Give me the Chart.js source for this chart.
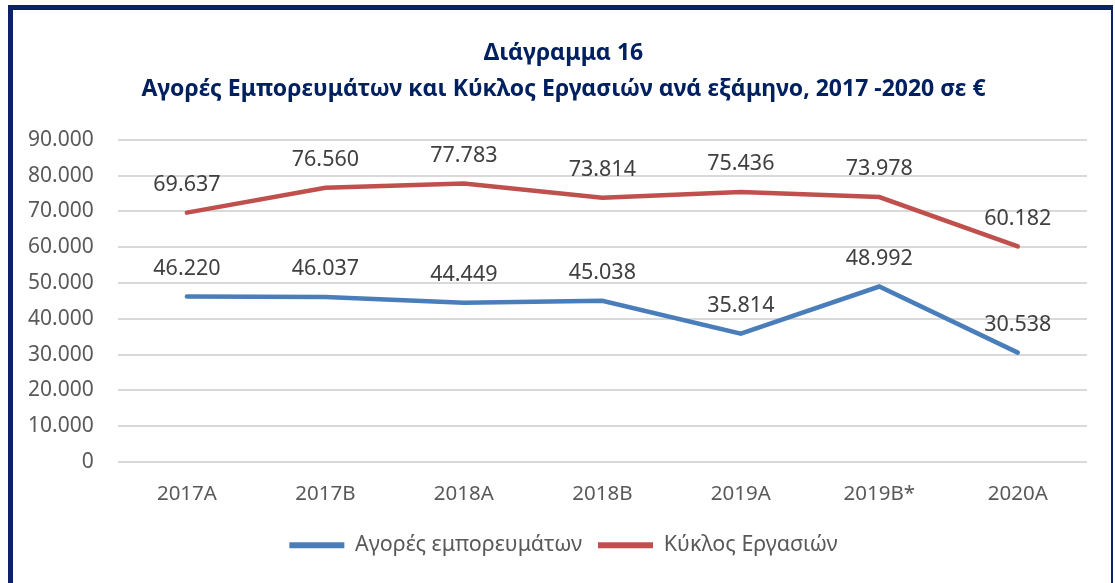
<!DOCTYPE html>
<html>
<head>
<meta charset="utf-8">
<script src="https://cdn.jsdelivr.net/npm/chart.js@4.4.0/dist/chart.umd.min.js"></script>
<style>
  html, body { margin: 0; padding: 0; background: #fff; }
  #wrap { position: relative; width: 1115px; height: 583px; }
  #frame {
    position: absolute; left: 8px; top: 5px; width: 1098px; height: 573px;
    border-top: 5px solid #0b2364; border-left: 5px solid #0b2364;
    border-right: 2px solid #0b2364; border-bottom: 2px solid #0b2364;
    pointer-events: none;
  }
</style>
</head>
<body>
<div id="wrap">
  <canvas id="lineChart" width="1115" height="583"></canvas>
  <div id="frame"></div>
</div>
<script>
const categories = ['2017A', '2017B', '2018A', '2018B', '2019A', '2019B*', '2020A'];
const purchases = [46220, 46037, 44449, 45038, 35814, 48992, 30538];
const turnover = [69637, 76560, 77783, 73814, 75436, 73978, 60182];
const yTicks = [0, 10000, 20000, 30000, 40000, 50000, 60000, 70000, 80000, 90000];

const fmt = (v) => v === 0 ? '0' : v.toLocaleString('de-DE');
const FONT = "'Noto Sans', sans-serif";

// data labels above each point
const pointLabels = {
    id: 'pointLabels',
    afterDatasetsDraw(chart) {
        const ctx = chart.ctx;
        ctx.save();
        ctx.font = '21.5px ' + FONT;
        ctx.fillStyle = '#404040';
        ctx.textAlign = 'center';
        ctx.textBaseline = 'bottom';
        chart.data.datasets.forEach((ds, i) => {
            chart.getDatasetMeta(i).data.forEach((pt, j) => {
                ctx.fillText(fmt(ds.data[j]), pt.x, pt.y - 17);
            });
        });
        ctx.restore();
    }
};

// title and legend are centred on the whole frame (Excel style), not on the padded box
const centreBlocks = {
    id: 'centreBlocks',
    afterLayout(chart) {
        [chart.titleBlock, chart.legend].forEach(b => {
            if (b) { b.left += 18; b.right += 18; }
        });
    }
};

const ctx = document.getElementById('lineChart').getContext('2d');
new Chart(ctx, {
    type: 'line',
    data: {
        labels: categories,
        datasets: [{
            label: 'Αγορές εμπορευμάτων',
            data: purchases,
            borderColor: '#4a7ebb',
            backgroundColor: '#4a7ebb',
            borderWidth: 4.5,
            borderCapStyle: 'round',
            pointRadius: 0,
            tension: 0
        }, {
            label: 'Κύκλος Εργασιών',
            data: turnover,
            borderColor: '#c0504d',
            backgroundColor: '#c0504d',
            borderWidth: 4.5,
            borderCapStyle: 'round',
            pointRadius: 0,
            tension: 0
        }]
    },
    options: {
        responsive: false,
        animation: false,
        layout: { padding: { left: 4, right: 28, top: 36, bottom: 17 } },
        plugins: {
            title: {
                display: true,
                text: ['Διάγραμμα 16', 'Αγορές Εμπορευμάτων και Κύκλος Εργασιών ανά εξάμηνο, 2017 -2020 σε €'],
                color: '#002060',
                font: { family: FONT, size: 23, weight: 'bold', lineHeight: 1.56 },
                padding: { top: 0, bottom: 32 }
            },
            legend: {
                position: 'bottom',
                labels: {
                    color: '#595959',
                    font: { family: FONT, size: 21.5 },
                    usePointStyle: true,
                    pointStyle: 'line',
                    pointStyleWidth: 55,
                    padding: 16,
                    generateLabels: (chart) => Chart.defaults.plugins.legend.labels.generateLabels(chart)
                        .map(item => Object.assign(item, { lineWidth: 6, pointStyle: 'line' }))
                }
            },
            tooltip: { enabled: false }
        },
        scales: {
            x: {
                offset: true,
                grid: { display: false },
                border: { display: false },
                ticks: { color: '#595959', font: { family: FONT, size: 20.5 }, padding: 12 }
            },
            y: {
                min: 0,
                max: 90000,
                afterBuildTicks: (axis) => { axis.ticks = yTicks.map(v => ({ value: v })); },
                grid: { color: '#d9d9d9', lineWidth: 2, drawTicks: false },
                border: { display: false },
                ticks: {
                    color: '#595959',
                    font: { family: FONT, size: 21 },
                    padding: 24,
                    callback: (v) => fmt(v)
                }
            }
        }
    },
    plugins: [pointLabels, centreBlocks]
});
</script>
</body>
</html>
